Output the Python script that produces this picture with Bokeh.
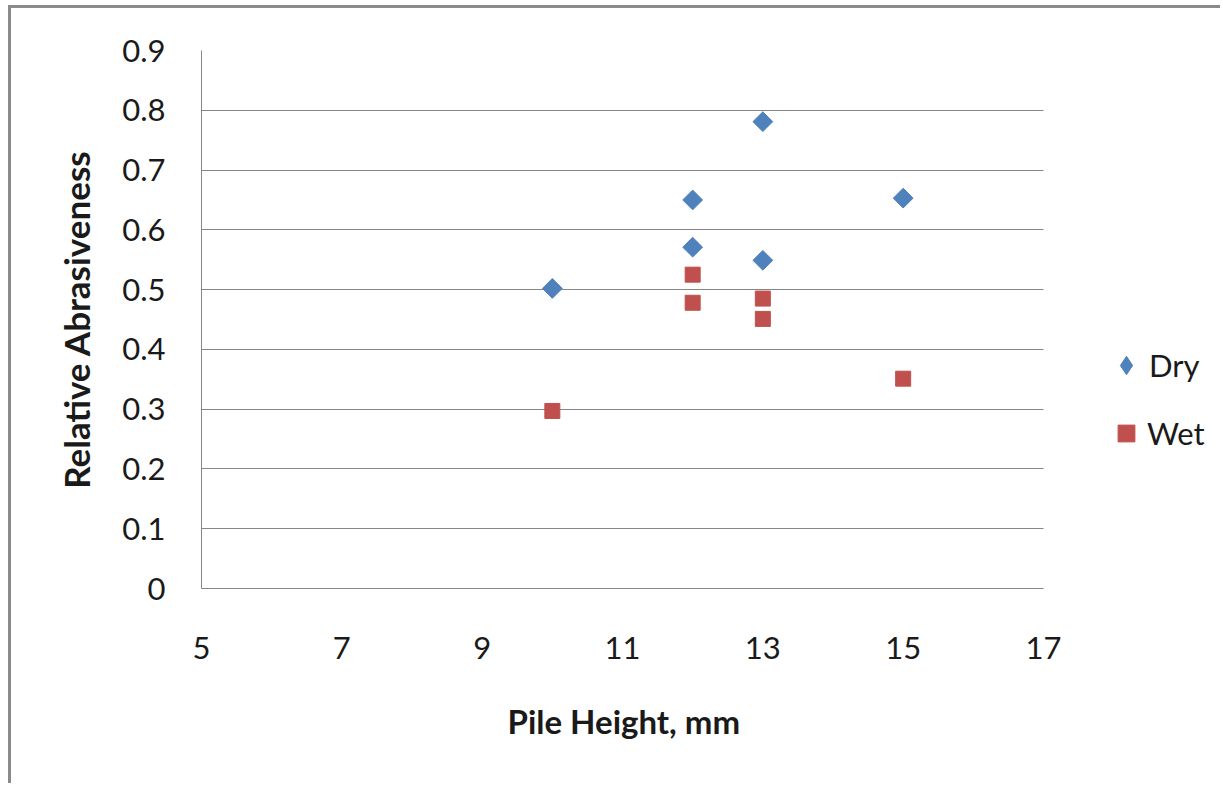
import numpy as np
from bokeh.plotting import figure
from bokeh.models import Range1d, FixedTicker, Legend, LegendItem, Title
from bokeh.embed import file_html
from bokeh.resources import INLINE

# Data
x_dry = [10, 12, 12, 13, 13, 15]
y_dry = [0.502, 0.650, 0.571, 0.781, 0.549, 0.653]
x_wet = [10, 12, 12, 13, 13, 15]
y_wet = [0.297, 0.525, 0.478, 0.485, 0.451, 0.351]

x_ticks = [5, 7, 9, 11, 13, 15, 17]
y_ticks = [0, 0.1, 0.2, 0.3, 0.4, 0.5, 0.6, 0.7, 0.8, 0.9]
y_tick_labels = ["0", "0.1", "0.2", "0.3", "0.4", "0.5", "0.6", "0.7", "0.8", "0.9"]
x_min, x_max = 5, 17
y_min, y_max = 0, 0.9

FONT = "Lato"
GRAY = "#868686"
TXT = "#1a1a1a"
BLUE = "#4F81BD"
RED = "#C0504D"

# layout (pixels)
W, H = 1212, 778
BL, BT, BB = 190, 42, 198
PLOT_W = 842                      # width of the 5..17 axis span
FRAME_W = W - BL                  # frame extended to the right to host the legend
x_end = x_min + (x_max - x_min) * FRAME_W / PLOT_W

p = figure(width=W, height=H, output_backend="svg", toolbar_location=None,
           x_range=Range1d(x_min, x_end), y_range=Range1d(y_min, y_max),
           min_border_left=BL, min_border_right=0,
           min_border_top=BT, min_border_bottom=BB)
p.outline_line_color = None
p.background_fill_color = "white"
p.border_fill_color = "white"
# outer chart border (only top and left edges are visible in the window)
p.styles = {"margin-left": "8px", "margin-top": "5px",
            "border-top": "3px solid #8a8a8a", "border-left": "3px solid #8a8a8a"}

for ax in (p.xaxis[0], p.yaxis[0]):
    ax.axis_line_color = GRAY
    ax.axis_line_width = 1
    ax.major_tick_line_color = None
    ax.minor_tick_line_color = None
    ax.major_label_text_font = FONT
    ax.major_label_text_font_size = "31px"
    ax.major_label_text_color = TXT

p.xaxis.bounds = (x_min, x_max)
p.xaxis.ticker = FixedTicker(ticks=x_ticks)
p.yaxis.ticker = FixedTicker(ticks=y_ticks)
p.yaxis.major_label_overrides = {t: l for t, l in zip(y_ticks, y_tick_labels)}
p.xaxis.major_label_standoff = 42
p.yaxis.major_label_standoff = 30

p.yaxis.axis_label = "Relative Abrasiveness"
p.yaxis.axis_label_text_font = FONT
p.yaxis.axis_label_text_font_style = "bold"
p.yaxis.axis_label_text_color = TXT
p.yaxis.axis_label_text_font_size = "35px"
p.yaxis.axis_label_standoff = 22

# x-axis title, centred under the 5..17 span
xt = Title(text="Pile Height, mm", align="left", offset=306, standoff=74,
           text_font=FONT, text_font_style="bold", text_font_size="33px",
           text_color=TXT)
p.add_layout(xt, "below")

p.xgrid.grid_line_color = None
p.ygrid.grid_line_color = GRAY
p.ygrid.grid_line_width = 1
if hasattr(p.ygrid[0], "cross_bounds"):
    p.ygrid.cross_bounds = (x_min, x_max)
else:
    p.ygrid.grid_line_color = None
    p.segment(x0=[x_min] * len(y_ticks[1:]), x1=[x_max] * len(y_ticks[1:]),
              y0=y_ticks[1:], y1=y_ticks[1:], line_color=GRAY, line_width=1,
              level="underlay")

r_dry = p.scatter(x_dry, y_dry, marker="square", angle=np.pi / 4, size=14,
                  fill_color=BLUE, line_color=BLUE)
r_wet = p.scatter(x_wet, y_wet, marker="square", size=15,
                  fill_color=RED, line_color=RED)
# diamond-shaped proxy of the Dry series for its legend entry (not drawn)
r_dry_key = p.scatter(x_dry, y_dry, marker="diamond", fill_color=BLUE,
                      line_color=BLUE, visible=False)


def make_legend(label, rend, glyph, loc, standoff):
    lg = Legend(items=[LegendItem(label=label, renderers=[rend])],
                location=loc, orientation="vertical")
    lg.label_text_font = FONT
    lg.label_text_font_size = "31px"
    lg.label_text_color = TXT
    lg.border_line_color = None
    lg.background_fill_alpha = 0
    lg.inactive_fill_alpha = 0
    lg.glyph_height = glyph
    lg.glyph_width = glyph
    lg.label_height = glyph
    lg.label_standoff = standoff
    lg.padding = 0
    lg.margin = 0
    lg.spacing = 0
    return lg


p.add_layout(make_legend("Dry", r_dry_key, 46, (902, 200), 0), "center")
p.add_layout(make_legend("Wet", r_wet, 42, (904, 134), 0), "center")

open("out.html", "w").write(file_html(p, INLINE))
